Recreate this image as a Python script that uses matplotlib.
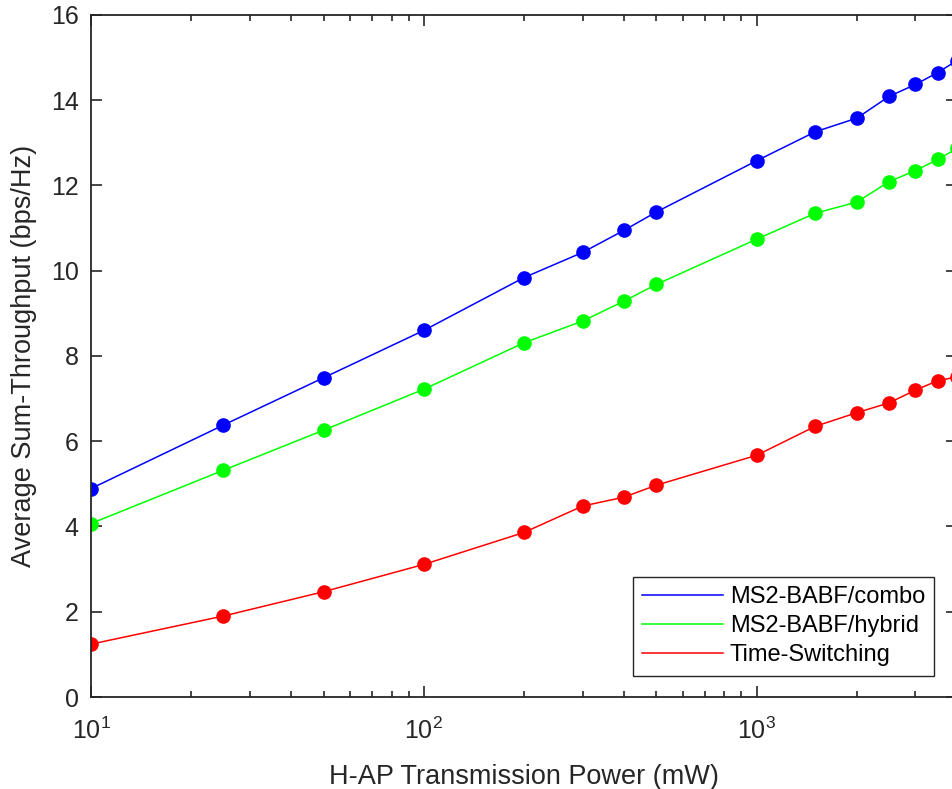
import numpy as np
import matplotlib.pyplot as plt
from matplotlib.ticker import LogLocator, NullFormatter

plt.rcParams['font.family'] = ['Liberation Sans', 'DejaVu Sans']
plt.rcParams['mathtext.default'] = 'regular'

# H-AP transmission power (mW)
power = [10, 25, 50, 100, 200, 300, 400, 500, 1000, 1500, 2000, 2500, 3000, 3500, 4000]

# average sum-throughput (bps/Hz)
combo = [4.89, 6.38, 7.49, 8.60, 9.84, 10.43, 10.95, 11.38, 12.58, 13.26, 13.58, 14.09, 14.37, 14.65, 14.93]
hybrid = [4.07, 5.32, 6.26, 7.22, 8.31, 8.82, 9.29, 9.68, 10.74, 11.35, 11.61, 12.09, 12.35, 12.61, 12.87]
time_sw = [1.24, 1.90, 2.47, 3.11, 3.86, 4.48, 4.69, 4.97, 5.67, 6.35, 6.67, 6.90, 7.20, 7.42, 7.51]

fig = plt.figure(figsize=(9.53, 7.89), dpi=100)
ax = fig.add_axes([0.0955, 0.1166, 0.9087, 0.8644])

for vals, color, label in zip([combo, hybrid, time_sw],
                              ['#0000ff', '#00ff00', '#ff0000'],
                              ['MS2-BABF/combo', 'MS2-BABF/hybrid', 'Time-Switching']):
    ax.plot(power, vals, color=color, lw=1.1, label=label)
    ax.plot(power, vals, 'o', color=color, ms=9.5, mec=color)

ax.set_xscale('log')
ax.set_xlim(10, 4000)
ax.set_ylim(0, 16)
ax.set_yticks(np.arange(0, 17, 2))
ax.xaxis.set_minor_locator(LogLocator(base=10, subs=np.arange(2, 10)))
ax.xaxis.set_minor_formatter(NullFormatter())

ax.tick_params(which='both', direction='in', top=True, right=True,
               colors='#262626', width=1.2, labelsize=18)
ax.tick_params(which='major', length=8)
ax.tick_params(axis='x', which='major', pad=15)
ax.tick_params(axis='y', which='major', pad=9)
ax.tick_params(which='minor', length=4)
for s in ax.spines.values():
    s.set_linewidth(1.3)
    s.set_color('#262626')

ax.set_xlabel('H-AP Transmission Power (mW)', fontsize=19.5, color='#262626', labelpad=14)
ax.set_ylabel('Average Sum-Throughput (bps/Hz)', fontsize=19.5, color='#262626', labelpad=10)

leg = ax.legend(loc='lower right', bbox_to_anchor=(0.974, 0.031), borderaxespad=0,
                fontsize=17, fancybox=False, edgecolor='#262626', framealpha=1,
                handlelength=3.4, handletextpad=0.3, borderpad=0.4, labelspacing=0.3)
leg.get_frame().set_linewidth(1.0)

fig.savefig('out.png', dpi=100)
